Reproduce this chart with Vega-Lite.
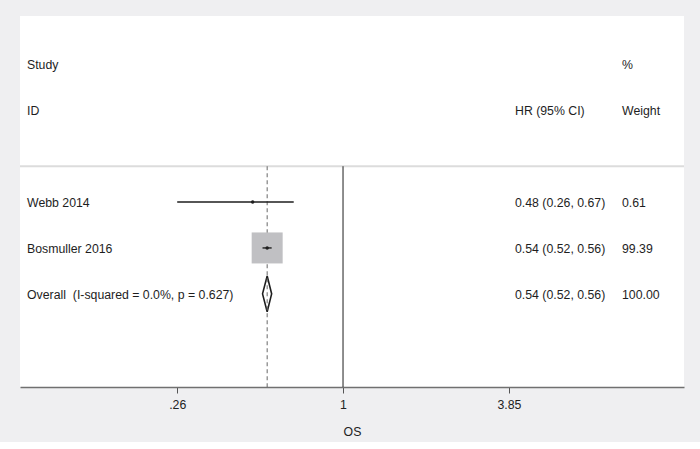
{
  "$schema": "https://vega.github.io/schema/vega-lite/v6.json",
  "width": 664,
  "height": 371,
  "autosize": {"type": "none"},
  "padding": {"left": 20, "top": 16, "right": 16, "bottom": 55},
  "background": "#efeff1",
  "view": {"fill": "white", "stroke": null},
  "config": {"font": "Liberation Sans"},
  "datasets": {
    "studies": [
      {"study": "Webb 2014", "hr": 0.48, "lo": 0.26, "hi": 0.67, "weight": 0.61, "row": 4},
      {"study": "Bosmuller 2016", "hr": 0.54, "lo": 0.52, "hi": 0.56, "weight": 99.39, "row": 5}
    ],
    "reflines": [
      {"kind": "null", "hr": 1, "from": 3.22, "to": 8.03},
      {"kind": "overall", "hr": 0.54, "from": 3.22, "to": 8.03}
    ],
    "diamond": [
      {"hr": 0.52, "top": 6, "bottom": 6},
      {"hr": 0.54, "top": 5.61, "bottom": 6.39},
      {"hr": 0.56, "top": 6, "bottom": 6}
    ],
    "cells": [
      {"col": 0, "row": 1, "label": "Study"},
      {"col": 2, "row": 1, "label": "%"},
      {"col": 0, "row": 2, "label": "ID"},
      {"col": 1, "row": 2, "label": "HR (95% CI)"},
      {"col": 2, "row": 2, "label": "Weight"},
      {"col": 0, "row": 4, "label": "Webb 2014"},
      {"col": 1, "row": 4, "label": "0.48 (0.26, 0.67)"},
      {"col": 2, "row": 4, "label": "0.61"},
      {"col": 0, "row": 5, "label": "Bosmuller 2016"},
      {"col": 1, "row": 5, "label": "0.54 (0.52, 0.56)"},
      {"col": 2, "row": 5, "label": "99.39"},
      {"col": 0, "row": 6, "label": "Overall\u00a0 (I-squared = 0.0%, p = 0.627)"},
      {"col": 1, "row": 6, "label": "0.54 (0.52, 0.56)"},
      {"col": 2, "row": 6, "label": "100.00"}
    ]
  },
  "layer": [
    {
      "layer": [
        {
          "data": {"values": [{"row": 3.22}]},
          "mark": {"type": "rule", "color": "#dcdcdc", "strokeWidth": 2},
          "encoding": {
            "y": {"field": "row", "type": "quantitative", "scale": {"domain": [-0.054, 8.03], "reverse": true, "nice": false, "zero": false}, "axis": null}
          }
        },
        {
          "data": {"name": "reflines"},
          "transform": [{"filter": "datum.kind == 'null'"}],
          "mark": {"type": "rule", "color": "#1e1e1e", "strokeWidth": 1},
          "encoding": {
            "x": {
              "field": "hr", "type": "quantitative",
              "scale": {"type": "log", "domain": [0.0725, 15.96], "nice": false},
              "axis": {
                "values": [0.26, 1, 3.85],
                "labelExpr": "datum.value < 1 ? slice(format(datum.value, '.2f'), 1) : format(datum.value, '~g')",
                "title": "OS",
                "grid": false,
                "domainColor": "#707070",
                "domainWidth": 1.5,
                "tickColor": "#555555",
                "tickSize": 6,
                "labelFontSize": 12.3,
                "labelColor": "#222222",
                "labelPadding": 5,
                "labelFlush": false,
                "titleFontSize": 12.3,
                "titleFontWeight": "normal",
                "titleColor": "#222222",
                "titlePadding": 15
              }
            },
            "y": {"field": "from", "type": "quantitative", "scale": {"domain": [-0.054, 8.03], "reverse": true, "nice": false, "zero": false}, "axis": null},
            "y2": {"field": "to"}
          }
        },
        {
          "data": {"name": "diamond"},
          "mark": {"type": "area", "fill": "white", "stroke": "#1e1e1e", "strokeWidth": 1.6, "interpolate": "linear"},
          "encoding": {
            "x": {"field": "hr", "type": "quantitative", "scale": {"type": "log", "domain": [0.0725, 15.96], "nice": false}},
            "y": {"field": "top", "type": "quantitative", "scale": {"domain": [-0.054, 8.03], "reverse": true, "nice": false, "zero": false}, "axis": null},
            "y2": {"field": "bottom"}
          }
        },
        {
          "data": {"name": "reflines"},
          "transform": [{"filter": "datum.kind == 'overall'"}],
          "mark": {"type": "rule", "color": "#666666", "strokeWidth": 1, "strokeDash": [4, 3]},
          "encoding": {
            "x": {"field": "hr", "type": "quantitative", "scale": {"type": "log", "domain": [0.0725, 15.96], "nice": false}},
            "y": {"field": "from", "type": "quantitative", "scale": {"domain": [-0.054, 8.03], "reverse": true, "nice": false, "zero": false}, "axis": null},
            "y2": {"field": "to"}
          }
        },
        {
          "data": {"name": "studies"},
          "mark": {"type": "point", "shape": "square", "filled": true, "color": "#c0c0c3", "opacity": 1, "strokeWidth": 0},
          "encoding": {
            "x": {"field": "hr", "type": "quantitative", "scale": {"type": "log", "domain": [0.0725, 15.96], "nice": false}},
            "y": {"field": "row", "type": "quantitative", "scale": {"domain": [-0.054, 8.03], "reverse": true, "nice": false, "zero": false}, "axis": null},
            "size": {"field": "weight", "type": "quantitative", "scale": {"type": "linear", "domain": [0, 100], "range": [0, 967], "zero": true}, "legend": null}
          }
        },
        {
          "data": {"name": "studies"},
          "mark": {"type": "rule", "color": "#1e1e1e", "strokeWidth": 1.4},
          "encoding": {
            "x": {"field": "lo", "type": "quantitative", "scale": {"type": "log", "domain": [0.0725, 15.96], "nice": false}},
            "x2": {"field": "hi"},
            "y": {"field": "row", "type": "quantitative", "scale": {"domain": [-0.054, 8.03], "reverse": true, "nice": false, "zero": false}, "axis": null}
          }
        },
        {
          "data": {"name": "studies"},
          "mark": {"type": "point", "shape": "circle", "filled": true, "color": "#1e1e1e", "opacity": 1, "size": 12},
          "encoding": {
            "x": {"field": "hr", "type": "quantitative", "scale": {"type": "log", "domain": [0.0725, 15.96], "nice": false}},
            "y": {"field": "row", "type": "quantitative", "scale": {"domain": [-0.054, 8.03], "reverse": true, "nice": false, "zero": false}, "axis": null}
          }
        }
      ]
    },
    {
      "data": {"name": "cells"},
      "mark": {"type": "text", "align": "left", "baseline": "middle", "fontSize": 12.3, "color": "#1e1e1e", "dy": 1},
      "encoding": {
        "x": {"field": "col", "type": "quantitative", "scale": {"domain": [0, 1, 2], "range": [7, 495, 602], "nice": false, "zero": false}, "axis": null},
        "y": {"field": "row", "type": "quantitative", "scale": {"domain": [-0.054, 8.03], "reverse": true, "nice": false, "zero": false}, "axis": null},
        "text": {"field": "label", "type": "nominal"}
      }
    }
  ],
  "resolve": {"scale": {"x": "independent"}}
}
